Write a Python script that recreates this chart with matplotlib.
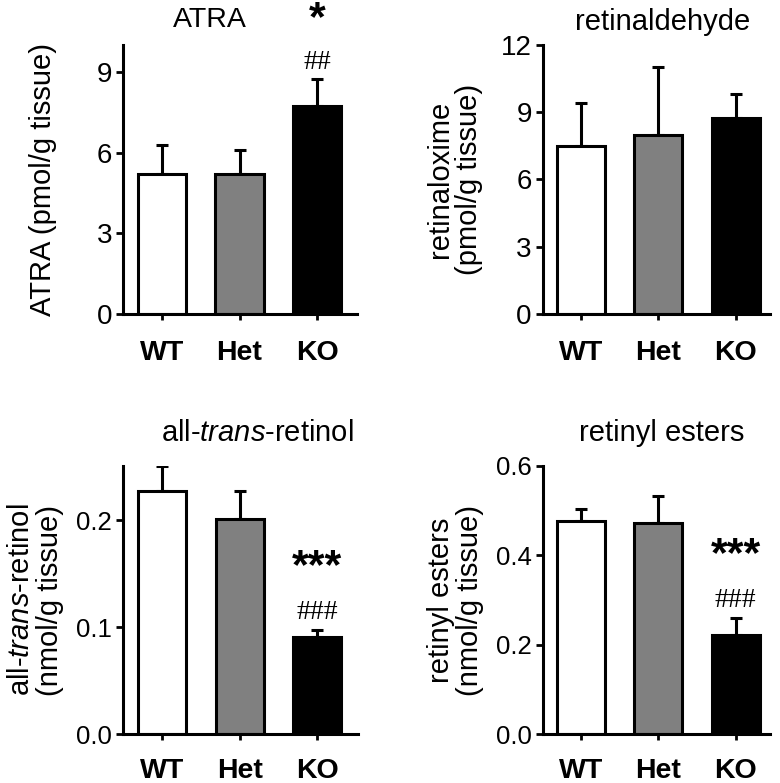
import matplotlib
matplotlib.use("Agg")
import matplotlib.pyplot as plt

plt.rcParams['font.family'] = ['Liberation Sans', 'DejaVu Sans']
plt.rcParams['mathtext.fontset'] = 'custom'
plt.rcParams['mathtext.rm'] = 'Liberation Sans'
plt.rcParams['mathtext.it'] = 'Liberation Sans:italic'

groups = ["WT", "Het", "KO"]
colors = ["white", "#808080", "black"]

atra_mean = [5.2, 5.2, 7.73]
atra_err = [1.07, 0.88, 0.99]

retinal_mean = [7.51, 7.98, 8.73]
retinal_err = [1.92, 3.05, 1.08]

retinol_mean = [0.228, 0.201, 0.0914]
retinol_err = [0.0226, 0.027, 0.0063]

esters_mean = [0.4767, 0.473, 0.2226]
esters_err = [0.0268, 0.060, 0.0364]

panels = [
    dict(rect=[0.1577, 0.599, 0.300, 0.3436], mean=atra_mean, err=atra_err,
         ylim=(0, 10), yticks=[0, 3, 6, 9], fmt="{:.0f}", xlim=(-0.503, 2.516),
         ticksize=20, xpad=15,
         title="ATRA", tpos=(0.372, 1.093), tsize=20.5,
         ylabel="ATRA (pmol/g tissue)", lpos=-0.28,
         star="*", stary=10.97, hashes="##", hashy=9.33),
    dict(rect=[0.696, 0.599, 0.291, 0.3436], mean=retinal_mean, err=retinal_err,
         ylim=(0, 12), yticks=[0, 3, 6, 9, 12], fmt="{:.0f}", xlim=(-0.49, 2.44),
         ticksize=20, xpad=15,
         title="retinaldehyde", tpos=(0.529, 1.086), tsize=21,
         ylabel="retinaloxime\n(pmol/g tissue)", lpos=-0.265,
         star=None, stary=None, hashes=None, hashy=None),
    dict(rect=[0.1577, 0.0622, 0.301, 0.3427], mean=retinol_mean, err=retinol_err,
         ylim=(0, 0.251), yticks=[0.0, 0.1, 0.2], fmt="{:.1f}", xlim=(-0.5, 2.52),
         ticksize=18.5, xpad=13,
         title=r"all-$\it{trans}$-retinol", tpos=(0.57, 1.123), tsize=21,
         ylabel="all-$\\it{trans}$-retinol\n(nmol/g tissue)", lpos=-0.25,
         star="***", stary=0.156, hashes="###", hashy=0.1138),
    dict(rect=[0.696, 0.0622, 0.291, 0.3427], mean=esters_mean, err=esters_err,
         ylim=(0, 0.6), yticks=[0.0, 0.2, 0.4, 0.6], fmt="{:.1f}", xlim=(-0.49, 2.44),
         ticksize=18.5, xpad=13,
         title="retinyl esters", tpos=(0.524, 1.123), tsize=21,
         ylabel="retinyl esters\n(nmol/g tissue)", lpos=-0.26,
         star="***", stary=0.401, hashes="###", hashy=0.300),
]

fig = plt.figure(figsize=(7.8, 7.83), dpi=100)

for p in panels:
    ax = fig.add_axes(p["rect"])
    x = list(range(len(groups)))
    ax.bar(x, p["mean"], width=0.62, color=colors, edgecolor="black",
           linewidth=2.2, zorder=2)
    ax.errorbar(x, p["mean"], yerr=[[0] * 3, p["err"]], fmt="none",
                ecolor="black", elinewidth=2.2, capsize=4, capthick=2.2, zorder=1)
    ax.set_xlim(*p["xlim"])
    ax.set_ylim(*p["ylim"])
    ax.set_yticks(p["yticks"])
    ax.set_yticklabels([p["fmt"].format(v) for v in p["yticks"]], fontsize=p["ticksize"])
    ax.set_xticks(x)
    ax.set_xticklabels(groups, fontsize=20.5, fontweight="bold")
    for s in ["top", "right"]:
        ax.spines[s].set_visible(False)
    for s in ["left", "bottom"]:
        ax.spines[s].set_linewidth(2.2)
    ax.tick_params(axis="y", direction="out", length=5, width=2.0, pad=3)
    ax.tick_params(axis="x", direction="out", length=4, width=2.0, pad=p["xpad"])
    ax.set_ylabel(p["ylabel"], fontsize=21, linespacing=1.05)
    ax.yaxis.set_label_coords(p["lpos"], 0.5)
    ax.text(p["tpos"][0], p["tpos"][1], p["title"], transform=ax.transAxes,
            ha="center", va="center", fontsize=p["tsize"])
    if p["star"]:
        ax.text(2, p["stary"], p["star"], ha="center", va="center",
                fontsize=31, fontweight="bold", clip_on=False)
    if p["hashes"]:
        ax.text(2, p["hashy"], p["hashes"], ha="center", va="center",
                fontsize=20, family="Liberation Serif", clip_on=False)

fig.savefig("out.png", dpi=100, facecolor="white")
